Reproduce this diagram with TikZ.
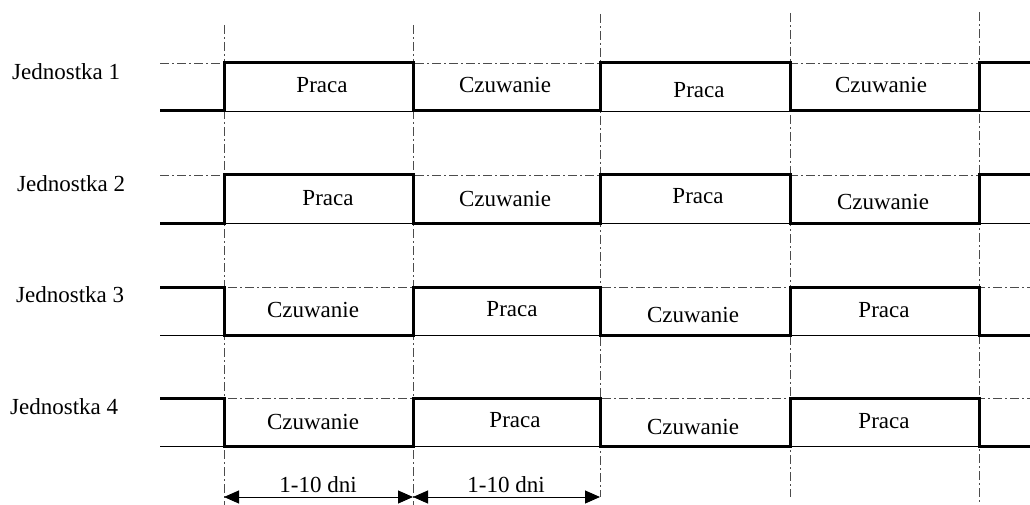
\documentclass[tikz,border=0pt]{standalone}
\usepackage{fontspec}
\setmainfont{Liberation Serif}
\usetikzlibrary{arrows.meta}
\begin{document}
\begin{tikzpicture}[x=1pt,y=-1pt,
  guide/.style={line width=0.9pt, draw=black!70, dash pattern=on 9pt off 3pt on 2pt off 3pt},
  base/.style={line width=0.9pt},
  signal/.style={line width=3pt, line join=miter},
  lbl/.style={font=\fontsize{23}{27}\selectfont, anchor=base, inner sep=0pt},
  unit/.style={lbl, anchor=base west},
  span/.style={line width=1pt, {Triangle[length=15pt,width=13pt]}-{Triangle[length=15pt,width=13pt]}}
]
\useasboundingbox (0,0) rectangle (1030,505);

% vertical time markers
\draw[guide] (224,25) -- (224,505);
\draw[guide] (413,25) -- (413,505);
\draw[guide] (600,14) -- (600,497);
\draw[guide] (790,13) -- (790,497);
\draw[guide] (979,12) -- (979,505);

% reference levels of each unit
\foreach \h/\l in {63/111, 175/223, 287/335, 398/446} {
  \draw[guide] (160,\h) -- (1030,\h);
  \draw[base] (160,\l) -- (1030,\l);
}

% unit labels
\node[unit] (u1) at (12,80) {Jednostka 1};
\node[unit] (u2) at (17,192) {Jednostka 2};
\node[unit] (u3) at (16,302) {Jednostka 3};
\node[unit] (u4) at (10,414) {Jednostka 4};

% unit 1
\draw[signal] (160,111) -- (224,111) -- (224,63) -- (413,63) -- (413,111) -- (600,111)
  -- (600,63) -- (790,63) -- (790,111) -- (979,111) -- (979,63) -- (1030,63);
\node[lbl] (a1) at (322,93) {Praca};
\node[lbl] (a2) at (505,93) {Czuwanie};
\node[lbl] (a3) at (699,98) {Praca};
\node[lbl] (a4) at (881,93) {Czuwanie};

% unit 2
\draw[signal] (160,223) -- (224,223) -- (224,175) -- (413,175) -- (413,223) -- (600,223)
  -- (600,175) -- (790,175) -- (790,223) -- (979,223) -- (979,175) -- (1030,175);
\node[lbl] (b1) at (328,205) {Praca};
\node[lbl] (b2) at (505,206) {Czuwanie};
\node[lbl] (b3) at (698,204) {Praca};
\node[lbl] (b4) at (883,210) {Czuwanie};

% unit 3
\draw[signal] (160,287) -- (224,287) -- (224,335) -- (413,335) -- (413,287) -- (600,287)
  -- (600,335) -- (790,335) -- (790,287) -- (979,287) -- (979,335) -- (1030,335);
\node[lbl] (c1) at (313,317) {Czuwanie};
\node[lbl] (c2) at (512,316) {Praca};
\node[lbl] (c3) at (693,322) {Czuwanie};
\node[lbl] (c4) at (884,317) {Praca};

% unit 4
\draw[signal] (160,398) -- (224,398) -- (224,446) -- (413,446) -- (413,398) -- (600,398)
  -- (600,446) -- (790,446) -- (790,398) -- (979,398) -- (979,446) -- (1030,446);
\node[lbl] (d1) at (313,429) {Czuwanie};
\node[lbl] (d2) at (515,427) {Praca};
\node[lbl] (d3) at (693,434) {Czuwanie};
\node[lbl] (d4) at (884,428) {Praca};

% period dimensions
\coordinate (t1) at (224,497);
\coordinate (t2) at (413,497);
\coordinate (t3) at (600,497);
\draw[span] (t1) -- (t2);
\draw[span] (t2) -- (t3);
\node[lbl] (p1) at (318,492) {1-10 dni};
\node[lbl] (p2) at (506,492) {1-10 dni};
\end{tikzpicture}
\end{document}
